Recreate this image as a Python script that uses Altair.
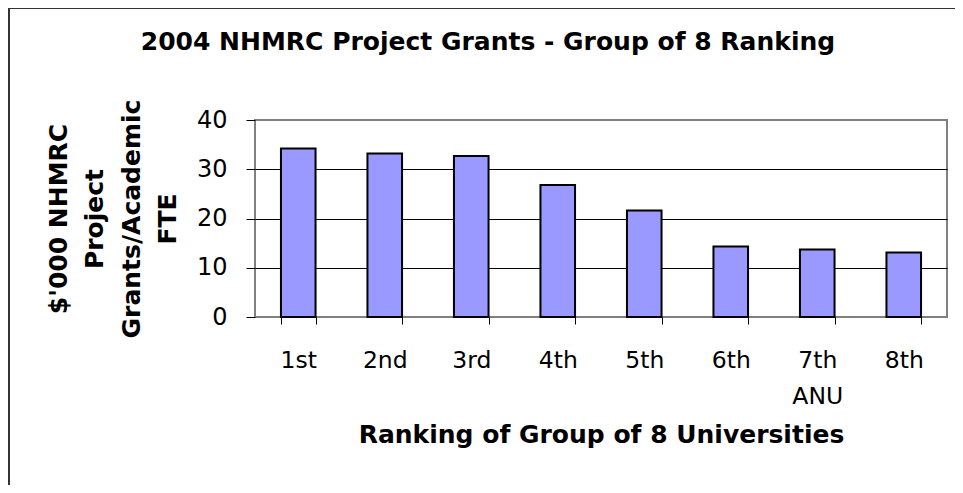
import altair as alt
import pandas as pd

categories = ["1st", "2nd", "3rd", "4th", "5th", "6th", "7th|ANU", "8th"]
values = [34.2, 33.2, 32.7, 26.8, 21.6, 14.3, 13.7, 13.1]
y_ticks = [0, 10, 20, 30, 40]
chart_title = ["2004 NHMRC Project Grants - Group of 8 Ranking"]
x_title = "Ranking of Group of 8 Universities"
y_title = ["$'000 NHMRC", "Project", "Grants/Academic", "FTE"]

FONT = "DejaVu Sans"
W, H = 692, 197

df = pd.DataFrame({"rank": categories, "value": values})

bars = alt.Chart(df).mark_bar(color="#9999FF", stroke="black", strokeWidth=2).encode(
    x=alt.X(
        "rank:N",
        sort=categories,
        scale=alt.Scale(paddingInner=0.6, paddingOuter=0.3),
        axis=alt.Axis(
            title=x_title,
            labelAngle=0,
            labelExpr="split(datum.label, '|')",
            labelFont=FONT,
            labelFontSize=23.5,
            labelColor="black",
            labelBaseline="alphabetic",
            labelPadding=43,
            labelLineHeight=36,
            labelOverlap=False,
            tickBand="extent",
            tickSize=7,
            tickColor="black",
            domain=False,
            grid=False,
            titleFont=FONT,
            titleFontSize=25,
            titleFontWeight="bold",
            titleColor="black",
            titleX=W / 2,
            titleY=125,
            titleAlign="center",
            titleBaseline="alphabetic",
        ),
    ),
    y=alt.Y(
        "value:Q",
        scale=alt.Scale(domain=[0, 40], nice=False, zero=True),
        axis=alt.Axis(
            values=y_ticks,
            title=y_title,
            labelFont=FONT,
            labelFontSize=24,
            labelColor="black",
            labelPadding=19,
            tickSize=9,
            tickColor="black",
            domain=False,
            grid=True,
            gridColor="black",
            gridWidth=1,
            gridOpacity={"condition": {"test": "datum.value == 0 || datum.value == 40", "value": 0}, "value": 1},
            titleFont=FONT,
            titleFontSize=25,
            titleFontWeight="bold",
            titleColor="black",
            titleAngle=270,
            titleX=-197,
            titleY=98.5,
            titleAlign="center",
            titleBaseline="middle",
            titleLineHeight=36.5,
        ),
    ),
)

title_df = pd.DataFrame({"t": chart_title})
title = alt.Chart(title_df).mark_text(
    font=FONT, fontSize=25, fontWeight="bold", color="black", align="center", baseline="alphabetic"
).encode(text="t:N", x=alt.value(488 - 255), y=alt.value(50 - 120))

border_df = pd.DataFrame({"b": [0]})
left_border = alt.Chart(border_df).mark_rule(color="#333333", strokeWidth=2).encode(
    x=alt.value(-246), y=alt.value(-112), y2=alt.value(365)
)
top_border = alt.Chart(border_df).mark_rule(color="#333333", strokeWidth=2).encode(
    x=alt.value(-246), x2=alt.value(700), y=alt.value(-112)
)

chart = (
    alt.layer(bars, title, left_border, top_border)
    .properties(
        width=W,
        height=H,
        autosize=alt.AutoSizeParams(type="none"),
        padding={"left": 247, "top": 112, "right": 8, "bottom": 168},
    )
    .configure_view(stroke="#808080", strokeWidth=2)
)

chart.save("out.html", embed_options={"renderer": "svg", "actions": False})
